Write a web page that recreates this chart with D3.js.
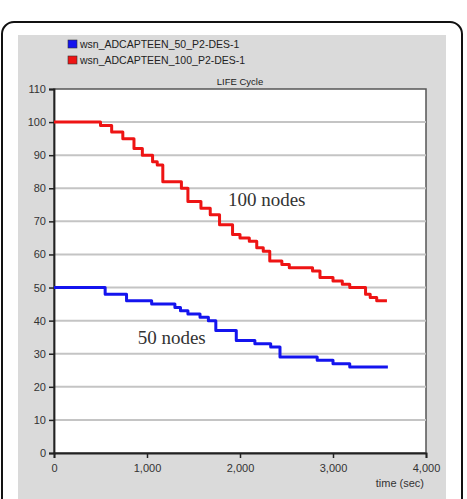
<!DOCTYPE html>
<meta charset="utf-8">
<style>
body { margin: 0; background: #fff; }
text { font-family: "Liberation Sans", Arial, sans-serif; }
text.lbl { font-family: "Liberation Serif", "Times New Roman", serif; }
.tick text { font-size: 11px; fill: #333; }
</style>
<svg width="467" height="499"></svg>
<script src="https://d3js.org/d3.v7.min.js"></script>
<script>
// series: [time (sec), nodes alive]
var names = ["wsn_ADCAPTEEN_50_P2-DES-1", "wsn_ADCAPTEEN_100_P2-DES-1"];
var colors = ["#1414ee", "#ee1414"];
var blue50 = [[0,50],[550,48],[780,46],[1050,45],[1300,44],[1360,43],[1440,42],[1570,41],[1660,40],[1740,37],
  [1960,34],[2160,33],[2330,32],[2430,29],[2830,28],[3000,27],[3180,26],[3590,26]];
var red100 = [[0,100],[500,99],[620,97],[740,95],[860,92],[950,90],[1060,88],[1110,87],[1170,82],[1370,80],
  [1440,76],[1580,74],[1680,72],[1780,69],[1920,66],[2000,65],[2100,64],[2180,62],[2250,61],[2320,58],
  [2450,57],[2530,56],[2780,55],[2860,53],[3000,52],[3100,51],[3180,50],[3350,48],[3400,47],[3470,46],[3580,46]];
var xTicks = [0, 1000, 2000, 3000, 4000];
var yTicks = [0, 10, 20, 30, 40, 50, 60, 70, 80, 90, 100, 110];
var labels = [{text: "100 nodes", x: 1870, y: 74.5}, {text: "50 nodes", x: 900, y: 32.8}];

var svg = d3.select("svg");
var pLeft = 54, pRight = 426, pTop = 89, pBottom = 453;

// frame and panel
svg.append("rect").attr("x", 2).attr("y", 22).attr("width", 460).attr("height", 500)
  .attr("rx", 12).attr("fill", "#fff").attr("stroke", "#111").attr("stroke-width", 2);
svg.append("rect").attr("x", 18).attr("y", 35).attr("width", 428).attr("height", 470).attr("fill", "#dadada");
svg.append("rect").attr("x", pLeft).attr("y", pTop).attr("width", pRight - pLeft).attr("height", pBottom - pTop)
  .attr("fill", "#fff").attr("stroke", "#555").attr("stroke-width", 1.5);

var x = d3.scaleLinear().domain([0, 4000]).range([pLeft, pRight]);
var y = d3.scaleLinear().domain([0, 110]).range([pBottom, pTop]);

// gridlines
svg.append("g").selectAll("line").data(yTicks.slice(1, -1)).join("line")
  .attr("x1", pLeft).attr("x2", pRight).attr("y1", d => y(d)).attr("y2", d => y(d))
  .attr("stroke", "#c4c4c4").attr("stroke-width", 2);

// axes
var yAxis = svg.append("g").attr("transform", "translate(" + pLeft + ",0)")
  .call(d3.axisLeft(y).tickValues(yTicks).tickSize(5).tickPadding(3));
var xAxis = svg.append("g").attr("transform", "translate(0," + pBottom + ")")
  .call(d3.axisBottom(x).tickValues(xTicks).tickFormat(d3.format(",")).tickSize(5).tickPadding(6));
[yAxis, xAxis].forEach(function(a) {
  a.select(".domain").attr("stroke", "#222").attr("stroke-width", 1.8);
  a.selectAll(".tick line").attr("stroke", "#222").attr("stroke-width", 1.5);
  a.selectAll(".tick text").style("font-family", "'Liberation Sans', Arial, sans-serif").style("font-size", "11px");
});

// lines
var line = d3.line().x(d => x(d[0])).y(d => y(d[1])).curve(d3.curveStepAfter);
[blue50, red100].forEach(function(s, i) {
  svg.append("path").datum(s).attr("d", line).attr("fill", "none")
    .attr("stroke", colors[i]).attr("stroke-width", 3).attr("stroke-linejoin", "round");
});

// title
svg.append("text").attr("x", 240).attr("y", 85).attr("text-anchor", "middle")
  .attr("font-size", 9.5).attr("fill", "#222").text("LIFE Cycle");

// legend
names.forEach(function(n, i) {
  svg.append("rect").attr("x", 68).attr("y", 40 + i * 16).attr("width", 9).attr("height", 8)
    .attr("fill", colors[i]).attr("stroke", "#333").attr("stroke-width", 0.6);
  svg.append("text").attr("x", 80).attr("y", 48 + i * 16).attr("font-size", 10.5)
    .attr("fill", "#222").text(n);
});

// curve labels
svg.selectAll(".lbl").data(labels).join("text").attr("class", "lbl")
  .attr("x", d => x(d.x)).attr("y", d => y(d.y))
  .attr("font-size", 19).attr("fill", "#333").text(d => d.text);

svg.append("text").attr("x", 424).attr("y", 487).attr("text-anchor", "end")
  .attr("font-size", 11).attr("fill", "#333").text("time (sec)");
</script>
